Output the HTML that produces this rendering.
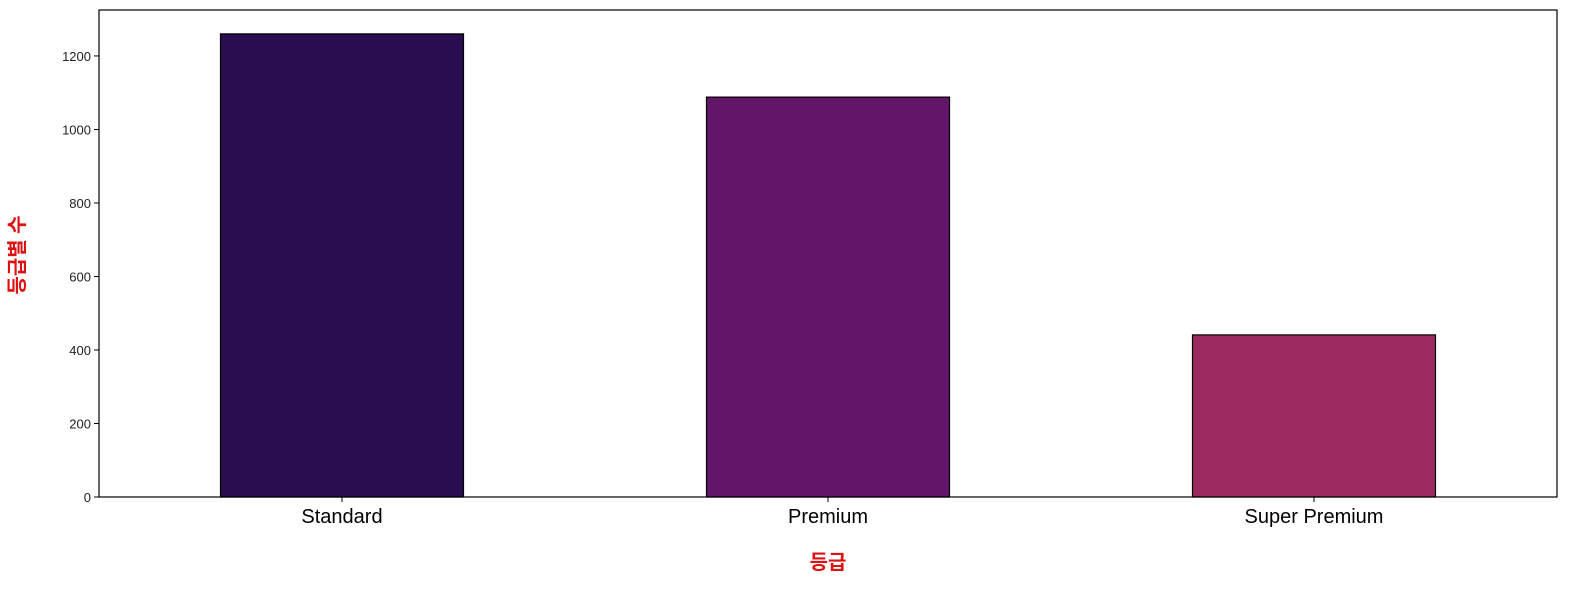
<!DOCTYPE html>
<html><head><meta charset="utf-8"><style>
body{margin:0;background:#fff;width:1590px;height:590px;overflow:hidden}
svg text{font-family:"Liberation Sans","Noto Sans CJK KR",sans-serif}
</style></head><body>
<svg id="chart" width="1590" height="590"></svg>
<script>
const categories=["Standard","Premium","Super Premium"];
const values=[1260,1088,441];
const colors=["#2a0c50","#63156a","#9c2a5f"];
const yTicks=[0,200,400,600,800,1000,1200];
const L=99,R=1557,T=10,B=497,YMAX=1325;
const svg=document.getElementById('chart');
const NS="http://www.w3.org/2000/svg";
function y(v){return B-(v/YMAX)*(B-T);}
const band=(R-L)/categories.length;
function xc(i){return L+band*(i+0.5);}
function mk(tag,attrs,parent){const e=document.createElementNS(NS,tag);for(const k in attrs)e.setAttribute(k,attrs[k]);(parent||svg).appendChild(e);return e;}
categories.forEach((c,i)=>{
  const w=band*0.5;
  const r=mk('rect',{x:xc(i)-w/2,y:y(values[i]),width:w,height:B-y(values[i]),fill:colors[i],stroke:'#000','stroke-width':1.2});
  
  
  const t=mk('text',{x:xc(i),y:523,'text-anchor':'middle','font-size':20,fill:'#000'});
  t.textContent=c;
  
  
  mk('line',{x1:xc(i),x2:xc(i),y1:B,y2:B+5,stroke:'#000'});
});
yTicks.forEach(v=>{
  mk('line',{x1:L-5,x2:L,y1:y(v),y2:y(v),stroke:'#000'});
  const t=mk('text',{x:L-8,y:y(v)+5,'text-anchor':'end','font-size':13,fill:'#222'});
  t.textContent=v;
  
  
});
const f=mk('rect',{x:L,y:T,width:R-L,height:B-T,fill:'none',stroke:'#000','stroke-width':1.2});


const xl=mk('text',{x:828,y:569,'text-anchor':'middle','font-size':20,'font-weight':'bold',fill:'#dd1111'});
xl.textContent='등급';


const yl=mk('text',{x:0,y:0,'text-anchor':'middle','font-size':20,'font-weight':'bold',fill:'#dd1111',transform:'translate(24,255) rotate(-90)'});
yl.textContent='등급별 수';


</script>
</body></html>
